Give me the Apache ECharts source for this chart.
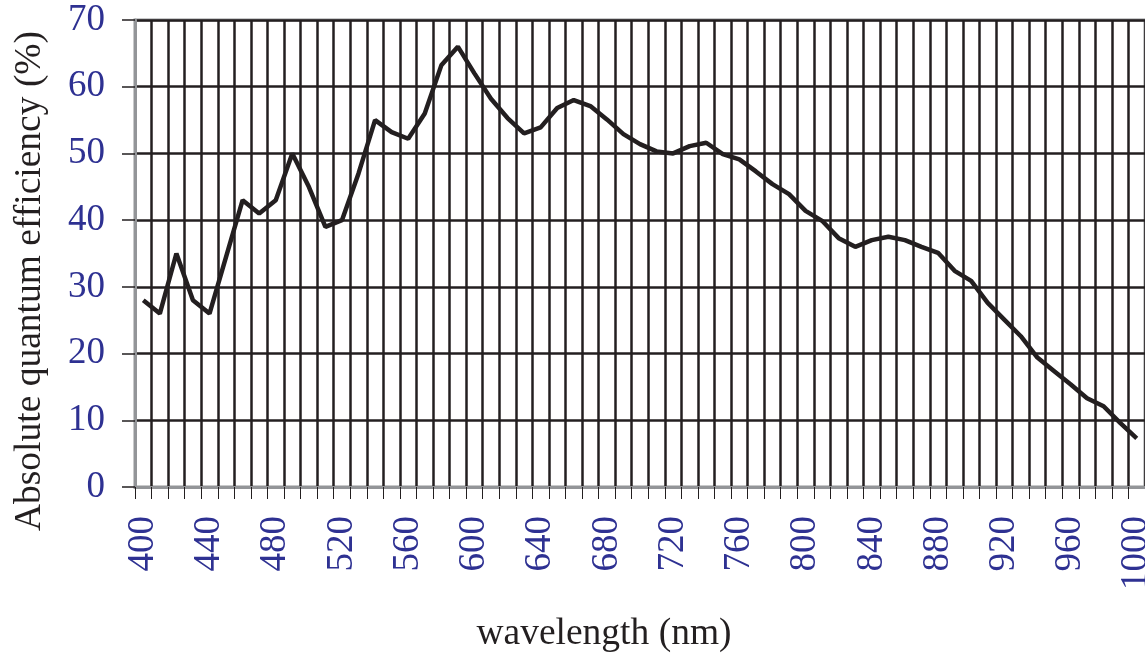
<!DOCTYPE html>
<html>
<head>
<meta charset="utf-8">
<script src="https://cdn.jsdelivr.net/npm/echarts@6/dist/echarts.min.js"></script>
<style>
  html, body { margin: 0; padding: 0; background: #fff; }
  #chart { width: 1145px; height: 656px; }
</style>
</head>
<body>
<div id="chart"></div>
<script>
// wavelength categories (nm)
const wavelengths = [
  400, 410, 420, 430, 440, 450, 460, 470, 480, 490,
  500, 510, 520, 530, 540, 550, 560, 570, 580, 590,
  600, 610, 620, 630, 640, 650, 660, 670, 680, 690,
  700, 710, 720, 730, 740, 750, 760, 770, 780, 790,
  800, 810, 820, 830, 840, 850, 860, 870, 880, 890,
  900, 910, 920, 930, 940, 950, 960, 970, 980, 990,
  1000
];

// absolute quantum efficiency (%)
const efficiency = [
  28, 26, 35, 28, 26, 34.5, 43, 41, 43, 50,
  45, 39, 40, 47, 55, 53.2, 52.2, 56, 63.2, 66,
  62, 58.2, 55.3, 53, 53.9, 56.8, 58, 57.1, 55.1, 52.9,
  51.4, 50.3, 50, 51.1, 51.6, 49.9, 49.1, 47.3, 45.4, 43.9,
  41.4, 39.9, 37.3, 36, 37, 37.5, 37, 36, 35.1, 32.4,
  30.9, 27.6, 25.1, 22.6, 19.4, 17.4, 15.4, 13.3, 12.1, 9.6,
  7.3
];

const xTitle = 'wavelength (nm)';
const yTitle = 'Absolute quantum efficiency (%)';

const serif = '"Liberation Serif", "DejaVu Serif", serif';
const labelBlue = '#2e3192';
const ink = '#231f20';
const frame = '#939598';

const chart = echarts.init(document.getElementById('chart'));

const option = {
  animation: false,
  backgroundColor: '#fff',
  grid: {
    left: 135,
    right: 0,
    top: 20,
    bottom: 169,
    outerBoundsMode: 'none',
    containLabel: false,
    show: true,
    borderColor: frame,
    borderWidth: 3
  },
  xAxis: {
    type: 'category',
    data: wavelengths,
    boundaryGap: true,
    axisLine: { lineStyle: { color: frame, width: 3 } },
    axisTick: { show: true, interval: 0, length: 12, lineStyle: { color: ink, width: 1 } },
    axisLabel: {
      interval: 3,
      rotate: 90,
      margin: 29,
      color: labelBlue,
      fontFamily: serif,
      fontSize: 37,
      hideOverlap: false
    },
    splitLine: { show: true, interval: 0, lineStyle: { color: ink, width: 2.5 } }
  },
  yAxis: {
    type: 'value',
    min: 0,
    max: 70,
    interval: 10,
    axisLine: { show: true, lineStyle: { color: frame, width: 3 } },
    axisTick: { show: true, length: 13, lineStyle: { color: ink, width: 1.5 } },
    axisLabel: {
      margin: 30,
      color: labelBlue,
      fontFamily: serif,
      fontSize: 37
    },
    splitLine: { show: true, lineStyle: { color: ink, width: 2.5 } }
  },
  graphic: [
    {
      type: 'text',
      x: 30,
      y: 281,
      rotation: Math.PI / 2,
      style: {
        text: yTitle,
        fill: ink,
        font: '37.5px ' + serif,
        align: 'center',
        verticalAlign: 'middle'
      }
    },
    {
      type: 'text',
      x: 604,
      y: 634,
      style: {
        text: xTitle,
        fill: ink,
        font: '37.5px ' + serif,
        align: 'center',
        verticalAlign: 'middle'
      }
    }
  ],
  series: [
    {
      type: 'line',
      data: efficiency,
      showSymbol: false,
      symbol: 'none',
      lineStyle: { color: ink, width: 4.5 },
      z: 5
    }
  ]
};

chart.setOption(option);
</script>
</body>
</html>
